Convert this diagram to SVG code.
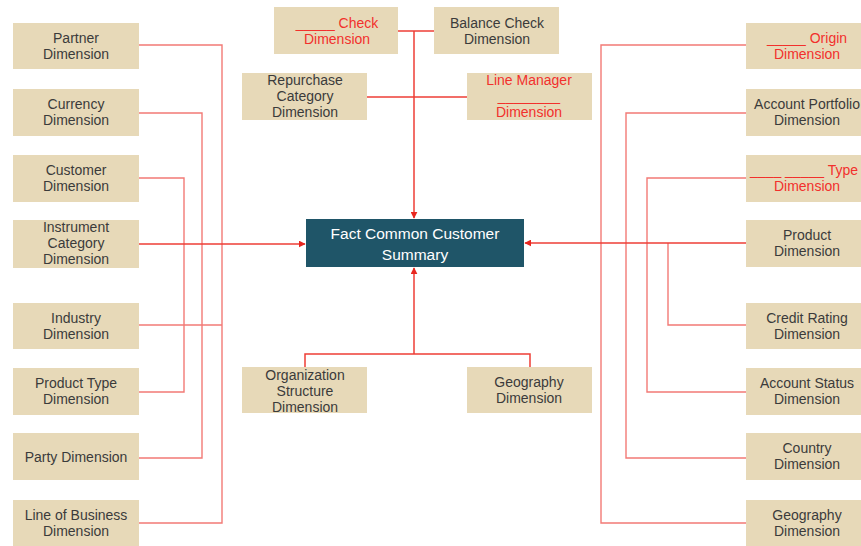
<svg xmlns="http://www.w3.org/2000/svg" width="861" height="546" viewBox="0 0 861 546">
  <style>
    .dim rect { fill: #e7d9b8; }
    .dim text { font-family: "Liberation Sans", Arial, sans-serif; font-size: 14px; fill: #3b3b3b; text-anchor: middle; }
    .dim text.hl { fill: #f2302c; }
    .fact rect { fill: #1f5568; }
    .fact text { font-family: "Liberation Sans", Arial, sans-serif; font-size: 15.5px; fill: #ffffff; text-anchor: middle; }
    .wire { fill: none; stroke: #f27a76; stroke-width: 1.4; }
    .main { fill: none; stroke: #ee3e36; stroke-width: 1.5; }
  </style>
  <defs>
    <marker id="arrow" viewBox="0 0 10 10" refX="9" refY="5" markerWidth="7" markerHeight="7" orient="auto" markerUnits="userSpaceOnUse">
      <path d="M0,0 L10,5 L0,10 Z" fill="#e8261f"/>
    </marker>
  </defs>

  <rect width="861" height="546" fill="#ffffff"/>

  <!-- connectors -->
  <g id="connectors">
    <!-- left side -->
    <path class="wire" d="M139,45 H222 V523 H139"/>
    <path class="wire" d="M139,325 H222"/>
    <path class="wire" d="M139,113 H202 V458 H139"/>
    <path class="wire" d="M139,178 H184 V392 H139"/>
    <path class="main" d="M139,244 H305" marker-end="url(#arrow)"/>
    <!-- right side -->
    <path class="wire" d="M746,45 H601 V523 H746"/>
    <path class="wire" d="M746,113 H626 V458 H746"/>
    <path class="wire" d="M746,178 H647 V392 H746"/>
    <path class="wire" d="M746,325 H668 V243"/>
    <path class="main" d="M746,243 H525" marker-end="url(#arrow)"/>
    <!-- top -->
    <path class="main" d="M398,31 H434"/>
    <path class="main" d="M367,97 H467"/>
    <path class="main" d="M414,31 V218" marker-end="url(#arrow)"/>
    <!-- bottom -->
    <path class="main" d="M305,367 V354 H530 V367"/>
    <path class="main" d="M414,354 V268" marker-end="url(#arrow)"/>
  </g>

  <!-- fact table -->
  <g id="fact-common-customer-summary" class="fact">
    <rect x="306" y="219" width="218" height="48"/>
    <text x="415" y="239">Fact Common Customer</text>
    <text x="415" y="260">Summary</text>
  </g>

  <!-- left column -->
  <g id="partner-dimension" class="dim">
    <rect x="13" y="23" width="126" height="46"/>
    <text x="76" y="43">Partner</text><text x="76" y="59">Dimension</text>
  </g>
  <g id="currency-dimension" class="dim">
    <rect x="13" y="89" width="126" height="47"/>
    <text x="76" y="109">Currency</text><text x="76" y="125">Dimension</text>
  </g>
  <g id="customer-dimension" class="dim">
    <rect x="13" y="155" width="126" height="47"/>
    <text x="76" y="175">Customer</text><text x="76" y="191">Dimension</text>
  </g>
  <g id="instrument-category-dimension" class="dim">
    <rect x="13" y="220" width="126" height="48"/>
    <text x="76" y="232">Instrument</text><text x="76" y="248">Category</text><text x="76" y="264">Dimension</text>
  </g>
  <g id="industry-dimension" class="dim">
    <rect x="13" y="303" width="126" height="46"/>
    <text x="76" y="323">Industry</text><text x="76" y="339">Dimension</text>
  </g>
  <g id="product-type-dimension" class="dim">
    <rect x="13" y="368" width="126" height="47"/>
    <text x="76" y="388">Product Type</text><text x="76" y="404">Dimension</text>
  </g>
  <g id="party-dimension" class="dim">
    <rect x="13" y="433" width="126" height="47"/>
    <text x="76" y="462">Party Dimension</text>
  </g>
  <g id="line-of-business-dimension" class="dim">
    <rect x="13" y="500" width="126" height="46"/>
    <text x="76" y="520">Line of Business</text><text x="76" y="536">Dimension</text>
  </g>

  <!-- top row -->
  <g id="check-dimension" class="dim">
    <rect x="274" y="7" width="124" height="47"/>
    <text class="hl" x="337" y="28">_____ Check</text><text class="hl" x="337" y="44">Dimension</text>
  </g>
  <g id="balance-check-dimension" class="dim">
    <rect x="434" y="7" width="125" height="47"/>
    <text x="497" y="28">Balance Check</text><text x="497" y="44">Dimension</text>
  </g>
  <g id="repurchase-category-dimension" class="dim">
    <rect x="242" y="73" width="125" height="47"/>
    <text x="305" y="85">Repurchase</text><text x="305" y="101">Category</text><text x="305" y="117">Dimension</text>
  </g>
  <g id="line-manager-dimension" class="dim">
    <rect x="467" y="73" width="125" height="47"/>
    <text class="hl" x="529" y="85">Line Manager</text><text class="hl" x="529" y="101">________</text><text class="hl" x="529" y="117">Dimension</text>
  </g>

  <!-- bottom row -->
  <g id="organization-structure-dimension" class="dim">
    <rect x="242" y="367" width="125" height="46"/>
    <text x="305" y="380">Organization</text><text x="305" y="396">Structure</text><text x="305" y="412">Dimension</text>
  </g>
  <g id="geography-dimension-bottom" class="dim">
    <rect x="467" y="367" width="125" height="46"/>
    <text x="529" y="387">Geography</text><text x="529" y="403">Dimension</text>
  </g>

  <!-- right column -->
  <g id="origin-dimension" class="dim">
    <rect x="746" y="23" width="126" height="46"/>
    <text class="hl" x="807" y="43">_____ Origin</text><text class="hl" x="807" y="59">Dimension</text>
  </g>
  <g id="account-portfolio-dimension" class="dim">
    <rect x="746" y="89" width="126" height="47"/>
    <text x="807" y="109">Account Portfolio</text><text x="807" y="125">Dimension</text>
  </g>
  <g id="type-dimension" class="dim">
    <rect x="746" y="155" width="126" height="47"/>
    <text class="hl" x="858" y="175" style="text-anchor:end">____ _____ Type</text><text class="hl" x="807" y="191">Dimension</text>
  </g>
  <g id="product-dimension" class="dim">
    <rect x="746" y="220" width="126" height="47"/>
    <text x="807" y="240">Product</text><text x="807" y="256">Dimension</text>
  </g>
  <g id="credit-rating-dimension" class="dim">
    <rect x="746" y="303" width="126" height="46"/>
    <text x="807" y="323">Credit Rating</text><text x="807" y="339">Dimension</text>
  </g>
  <g id="account-status-dimension" class="dim">
    <rect x="746" y="368" width="126" height="47"/>
    <text x="807" y="388">Account Status</text><text x="807" y="404">Dimension</text>
  </g>
  <g id="country-dimension" class="dim">
    <rect x="746" y="433" width="126" height="47"/>
    <text x="807" y="453">Country</text><text x="807" y="469">Dimension</text>
  </g>
  <g id="geography-dimension" class="dim">
    <rect x="746" y="500" width="126" height="46"/>
    <text x="807" y="520">Geography</text><text x="807" y="536">Dimension</text>
  </g>
</svg>
